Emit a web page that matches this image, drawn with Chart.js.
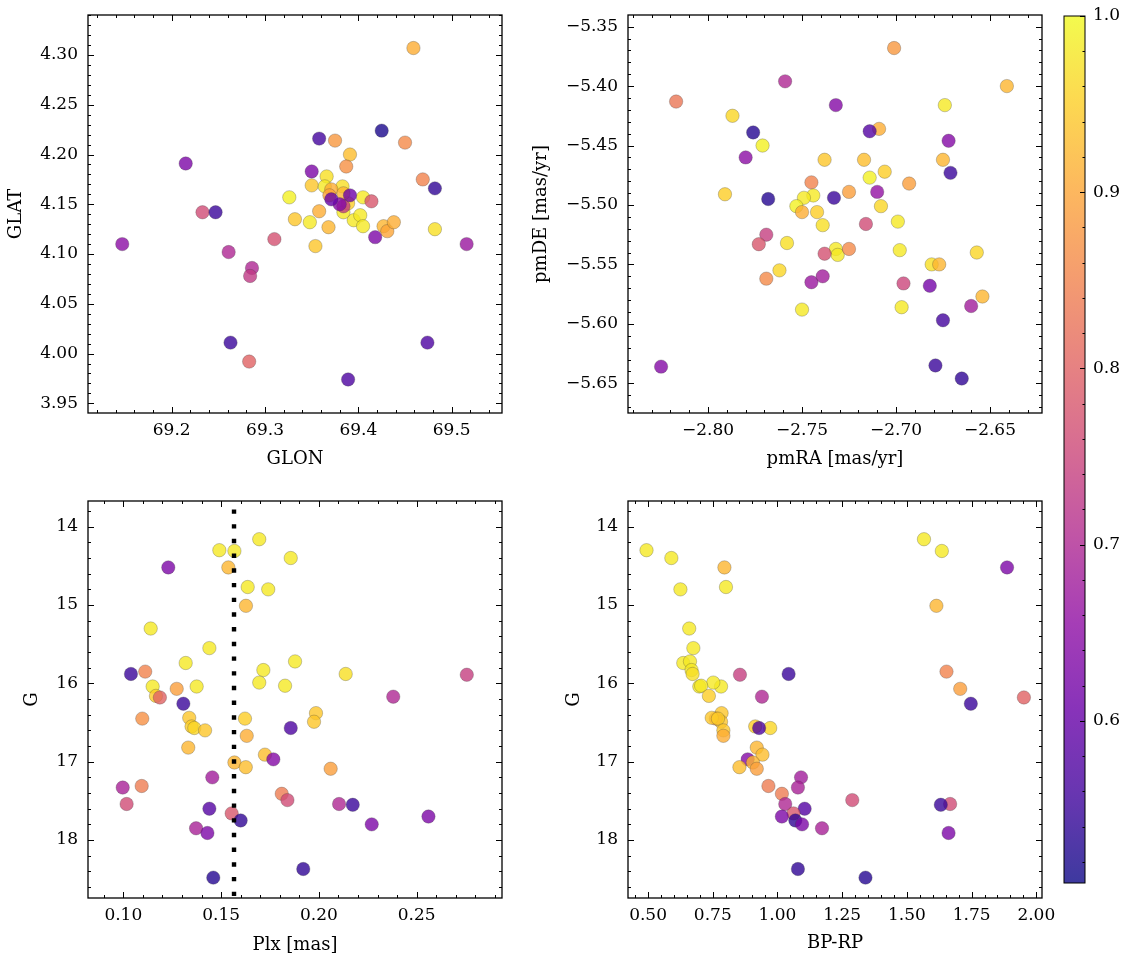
<!DOCTYPE html>
<html><head><meta charset="utf-8">
<script src="https://cdn.jsdelivr.net/npm/chart.js@4.4.0/dist/chart.umd.min.js"></script>
<style>
html,body{margin:0;padding:0;background:#fff;}
#wrap{position:relative;width:1133px;height:965px;overflow:hidden;background:#fff;}
canvas{position:absolute;}
</style></head><body>
<div id="wrap">
<canvas id="c1" width="510" height="480" style="left:0;top:0"></canvas>
<canvas id="c3" width="510" height="485" style="left:0;top:480px"></canvas>
<canvas id="c2" width="560" height="480" style="left:510px;top:0"></canvas>
<canvas id="c4" width="560" height="485" style="left:510px;top:480px"></canvas>
<canvas id="cb" width="83" height="965" style="left:1050px;top:0"></canvas>
</div>
<script>
// ---------- data: positions ----------
const glon = [69.459,69.425,69.358,69.375,69.450,69.391,69.215,69.387,69.350,69.469,69.482,69.366,69.350,69.326,69.405,69.233,69.247,69.414,69.332,69.358,69.348,69.368,69.395,69.402,69.405,69.427,69.431,69.438,69.482,69.418,69.354,69.310,69.147,69.516,69.261,69.286,69.284,69.263,69.474,69.283,69.389,
  69.364,69.383,69.384,69.389,69.371,69.369,69.384,69.384,69.380,69.371,69.391];
const glat = [4.307,4.224,4.216,4.214,4.212,4.200,4.191,4.188,4.183,4.175,4.166,4.178,4.169,4.157,4.157,4.142,4.142,4.153,4.135,4.143,4.132,4.127,4.134,4.139,4.128,4.128,4.123,4.132,4.125,4.117,4.108,4.115,4.110,4.110,4.102,4.086,4.078,4.011,4.011,3.992,3.974,
  4.168,4.168,4.142,4.151,4.165,4.159,4.161,4.148,4.150,4.155,4.159];
const probPos = [0.91,0.52,0.56,0.88,0.86,0.93,0.63,0.87,0.63,0.85,0.54,0.97,0.94,0.99,0.98,0.76,0.55,0.78,0.94,0.91,0.98,0.92,0.98,0.98,0.98,0.92,0.90,0.91,0.97,0.63,0.94,0.77,0.65,0.67,0.70,0.70,0.73,0.55,0.57,0.80,0.57,
  0.98,0.97,0.98,0.95,0.91,0.90,0.92,0.73,0.64,0.60,0.61];

// ---------- data: proper motions ----------
const pmra = [-2.701,-2.641,-2.759,-2.817,-2.732,-2.674,-2.787,-2.776,-2.709,-2.714,-2.771,-2.672,-2.780,-2.738,-2.717,-2.675,-2.671,-2.706,-2.714,-2.745,-2.693,-2.725,-2.710,-2.791,-2.768,-2.733,-2.744,-2.749,-2.753,-2.750,-2.742,-2.708,-2.739,-2.716,-2.699,-2.769,-2.773,-2.758,-2.732,-2.731,-2.738,-2.725,-2.698,-2.657,-2.762,-2.769,-2.745,-2.739,-2.681,-2.677,-2.696,-2.682,-2.654,-2.660,-2.750,-2.697,-2.675,-2.825,-2.679,-2.665];
const pmde = [-5.368,-5.400,-5.396,-5.413,-5.416,-5.416,-5.425,-5.439,-5.436,-5.438,-5.450,-5.446,-5.460,-5.462,-5.462,-5.462,-5.473,-5.472,-5.477,-5.481,-5.482,-5.489,-5.489,-5.491,-5.495,-5.494,-5.492,-5.494,-5.501,-5.506,-5.506,-5.501,-5.517,-5.516,-5.514,-5.525,-5.533,-5.532,-5.537,-5.542,-5.541,-5.537,-5.538,-5.540,-5.555,-5.562,-5.565,-5.560,-5.550,-5.550,-5.566,-5.568,-5.577,-5.585,-5.588,-5.586,-5.597,-5.636,-5.635,-5.646];
const probPM = [0.88,0.92,0.70,0.83,0.64,0.98,0.96,0.53,0.91,0.58,0.99,0.64,0.65,0.94,0.93,0.92,0.55,0.95,0.99,0.85,0.89,0.89,0.66,0.95,0.53,0.55,0.98,0.98,0.99,0.91,0.95,0.96,0.97,0.76,0.98,0.74,0.78,0.97,0.98,0.98,0.77,0.86,0.98,0.96,0.96,0.86,0.67,0.68,0.97,0.92,0.75,0.62,0.92,0.68,0.98,0.98,0.56,0.64,0.55,0.54];

// ---------- data: photometry / parallax ----------
const plx = [0.1695,0.1491,0.1568,0.1856,0.123,0.1537,0.1636,0.1741,0.1627,0.114,0.144,0.1319,0.1878,0.1039,0.1112,0.1716,0.2137,0.2756,0.115,0.1375,0.1695,0.1827,0.1273,0.1167,0.1187,0.238,0.1307,0.1985,0.1975,0.1097,0.1337,0.1622,0.1349,0.1363,0.1418,0.1856,0.1631,0.1332,0.1724,0.1767,0.1568,0.1626,0.206,0.1455,0.0997,0.1094,0.1017,0.181,0.1839,0.2103,0.2173,0.144,0.1554,0.16,0.256,0.1372,0.143,0.227,0.192,0.146];
const gmag = [14.16,14.30,14.31,14.40,14.52,14.52,14.77,14.80,15.01,15.30,15.55,15.74,15.72,15.88,15.85,15.83,15.88,15.89,16.04,16.04,15.99,16.03,16.07,16.16,16.18,16.17,16.26,16.38,16.49,16.45,16.44,16.45,16.55,16.57,16.60,16.57,16.67,16.82,16.91,16.97,17.01,17.07,17.09,17.20,17.33,17.31,17.54,17.41,17.49,17.54,17.55,17.60,17.66,17.75,17.70,17.85,17.91,17.80,18.37,18.48];
const bprp = [1.566,0.494,1.635,0.590,1.887,0.795,0.801,0.625,1.614,0.659,0.675,0.636,0.662,1.043,1.653,0.668,0.672,0.855,0.698,0.782,0.752,0.705,1.706,0.735,1.952,0.940,1.747,0.784,0.782,0.762,0.746,0.770,0.914,0.972,0.791,0.929,0.791,0.920,0.942,0.885,0.905,0.853,0.920,1.091,1.079,0.965,1.667,1.017,1.289,1.030,1.631,1.105,1.062,1.069,1.017,1.172,1.661,1.095,1.079,1.340];
const probPhot = [0.98,0.98,0.98,0.98,0.63,0.92,0.98,0.98,0.92,0.98,0.98,0.98,0.98,0.55,0.85,0.98,0.97,0.74,0.98,0.98,0.98,0.98,0.89,0.95,0.80,0.70,0.55,0.94,0.94,0.87,0.94,0.95,0.95,0.96,0.94,0.57,0.91,0.92,0.93,0.64,0.92,0.93,0.89,0.68,0.69,0.84,0.76,0.84,0.76,0.70,0.55,0.58,0.78,0.54,0.63,0.69,0.63,0.63,0.54,0.53];

// dotted reference line (parallax)
const plxLineX = [0.1566, 0.1566];
const plxLineG = [13.78, 18.80];

// ---------- tick labels ----------
const glonTicks = [69.2, 69.3, 69.4, 69.5];
const glatTicks = [3.95, 4.00, 4.05, 4.10, 4.15, 4.20, 4.25, 4.30];
const pmraTicks = [-2.80, -2.75, -2.70, -2.65];
const pmdeTicks = [-5.65, -5.60, -5.55, -5.50, -5.45, -5.40, -5.35];
const plxTicks = [0.10, 0.15, 0.20, 0.25];
const gTicks = [14, 15, 16, 17, 18];
const bprpTicks = [0.50, 0.75, 1.00, 1.25, 1.50, 1.75, 2.00];
const cbTicks = [0.6, 0.7, 0.8, 0.9, 1.0];
const CB_MIN = 0.508, CB_MAX = 1.0;

// ---------- style ----------
Chart.defaults.font.family = "'DejaVu Serif', serif";
Chart.defaults.color = '#000';
const ALPHA = 0.8;
const PLASMA = [[13,8,135],[65,4,157],[106,0,168],[143,13,164],[177,42,144],[204,71,120],[225,100,98],[242,132,75],[252,166,54],[252,206,37],[240,249,33]];
function plasma(t){ t=Math.min(1,Math.max(0,t)); const f=t*10; const i=Math.min(9,Math.floor(f)); const r=f-i; const a=PLASMA[i], b=PLASMA[i+1]; return [0,1,2].map(k=>Math.round(a[k]+(b[k]-a[k])*r)); }
function probColor(p){ const c=plasma((p-CB_MIN)/(CB_MAX-CB_MIN)); return `rgba(${c[0]},${c[1]},${c[2]},${ALPHA})`; }
function fmt(v,d){ const s=Math.abs(v).toFixed(d); return (v<0?'\u2212':'')+s; }

const frameCfg = {};
const frameTicks = {
  id:'frameTicks',
  afterDatasetsDraw(chart){
    const o = frameCfg[chart.canvas.id]; if(!o) return;
    const {ctx, chartArea:a, scales} = chart;
    ctx.save();
    ctx.strokeStyle='#000'; ctx.lineWidth=1;
    const line=(x1,y1,x2,y2)=>{ctx.beginPath();ctx.moveTo(x1,y1);ctx.lineTo(x2,y2);ctx.stroke();};
    const minorVals=(s,majors,step)=>{const out=[];const lo=Math.min(s.min,s.max),hi=Math.max(s.min,s.max);let k=Math.ceil(lo/step-1e-6);for(;;){const v=k*step;if(v>hi+1e-9)break;if(!majors.some(m=>Math.abs(m-v)<step*0.01))out.push(v);k++;}return out;};
    const MJ=o.major||6, MN=o.minor||3;
    if(o.xSides.length){
      const xs=scales.x;
      const draw=(v,len)=>{const p=Math.round(xs.getPixelForValue(v))+0.5; if(p<a.left||p>a.right)return;
        if(o.xSides.includes('bottom')) line(p,a.bottom,p,a.bottom-len);
        if(o.xSides.includes('top')) line(p,a.top,p,a.top+len);};
      o.xMajor.forEach(v=>draw(v,MJ));
      minorVals(xs,o.xMajor,o.xMinor).forEach(v=>draw(v,MN));
    }
    if(o.ySides.length){
      const ys=scales.y;
      const draw=(v,len)=>{const p=Math.round(ys.getPixelForValue(v))+0.5; if(p<a.top||p>a.bottom)return;
        if(o.ySides.includes('left')) line(a.left,p,a.left+len,p);
        if(o.ySides.includes('right')) line(a.right,p,a.right-len,p);};
      o.yMajor.forEach(v=>draw(v,MJ));
      minorVals(ys,o.yMajor,o.yMinor).forEach(v=>draw(v,MN));
    }
    ctx.lineWidth=o.frameWidth||1.3;
    ctx.strokeRect(a.left,a.top,a.right-a.left,a.bottom-a.top);
    ctx.restore();
  }
};

function panel(id,p){
  frameCfg[id] = {xMajor:p.xTicks, yMajor:p.yTicks, xMinor:p.xMinor, yMinor:p.yMinor, xSides:['bottom','top'], ySides:['left','right']};
  const datasets=[{type:'scatter', data:p.xs.map((x,i)=>({x, y:p.ys[i]})), backgroundColor:p.probs.map(probColor),
    borderColor:'rgba(60,60,60,0.55)', borderWidth:0.5, pointRadius:6.7, pointHoverRadius:6.7, order:1}];
  if(p.extra) datasets.push(p.extra);
  return new Chart(document.getElementById(id),{
    type:'scatter',
    data:{datasets},
    options:{
      responsive:false, animation:false, devicePixelRatio:1, events:[],
      layout:{padding:{left:0, top:p.top, right:p.right, bottom:0}},
      plugins:{legend:{display:false}, tooltip:{enabled:false}},
      scales:{
        x:{type:'linear', min:p.xMin, max:p.xMax, grid:{display:false, drawTicks:false}, border:{display:false},
          ticks:{padding:7, font:{size:17}, autoSkip:false, maxRotation:0, callback:v=>fmt(v,p.xDec)},
          afterBuildTicks:s=>{s.ticks=p.xTicks.map(v=>({value:v}));},
          afterFit:s=>{s.height=p.xH; s.paddingLeft=0; s.paddingRight=0;},
          title:{display:true, text:p.xTitle, font:{size:18}, padding:{top:0, bottom:p.xTitlePad}}},
        y:{type:'linear', reverse:!!p.reverse, min:p.yMin, max:p.yMax, grid:{display:false, drawTicks:false}, border:{display:false},
          ticks:{padding:10, font:{size:17}, autoSkip:false, callback:v=>fmt(v,p.yDec)},
          afterBuildTicks:s=>{s.ticks=p.yTicks.map(v=>({value:v}));},
          afterFit:s=>{s.width=p.yW; s.paddingTop=0; s.paddingBottom=0;},
          title:{display:true, text:p.yTitle, font:{size:18}, padding:{top:p.yTitlePad, bottom:0}}}
      }
    },
    plugins:[frameTicks]
  });
}

panel('c1',{xs:glon, ys:glat, probs:probPos, xMin:69.1103, xMax:69.5539, yMin:3.9403, yMax:4.3402,
  xTicks:glonTicks, yTicks:glatTicks, xDec:1, yDec:2, xMinor:0.02, yMinor:0.01, xTitle:'GLON', yTitle:'GLAT',
  top:15, right:8, yW:88, xH:67, xTitlePad:10, yTitlePad:6});
panel('c2',{xs:pmra, ys:pmde, probs:probPM, xMin:-2.8426, xMax:-2.6223, yMin:-5.675, yMax:-5.3402,
  xTicks:pmraTicks, yTicks:pmdeTicks, xDec:2, yDec:2, xMinor:0.01, yMinor:0.01, xTitle:'pmRA [mas/yr]', yTitle:'pmDE [mas/yr]',
  top:15, right:28, yW:118, xH:67, xTitlePad:10, yTitlePad:21});
panel('c3',{xs:plx, ys:gmag, probs:probPhot, xMin:0.08195, xMax:0.2936, yMin:13.672, yMax:18.74, reverse:true,
  xTicks:plxTicks, yTicks:gTicks, xDec:2, yDec:0, xMinor:0.01, yMinor:0.2, xTitle:'Plx [mas]', yTitle:'G',
  top:21, right:8, yW:88, xH:67, xTitlePad:9, yTitlePad:22,
  extra:{type:'line', showLine:true, data:plxLineX.map((x,i)=>({x, y:plxLineG[i]})), borderColor:'#000', borderWidth:4.4,
    borderDash:[4.4,10.3], borderCapStyle:'butt', pointRadius:0, fill:false, order:0}});
panel('c4',{xs:bprp, ys:gmag, probs:probPhot, xMin:0.4225, xMax:2.022, yMin:13.672, yMax:18.74, reverse:true,
  xTicks:bprpTicks, yTicks:gTicks, xDec:2, yDec:0, xMinor:0.05, yMinor:0.2, xTitle:'BP-RP', yTitle:'G',
  top:21, right:28, yW:118, xH:67, xTitlePad:11, yTitlePad:54});

// colorbar
frameCfg['cb'] = {yMajor:cbTicks, yMinor:0.02, xSides:[], ySides:['right'], major:5, minor:2.5, frameWidth:1};
new Chart(document.getElementById('cb'),{
  type:'bar',
  data:{labels:[''], datasets:[{data:[[CB_MIN, CB_MAX]], borderWidth:0, barPercentage:1, categoryPercentage:1,
    backgroundColor:(c)=>{
      const ch=c.chart; if(!ch.chartArea) return 'rgba(0,0,0,0)';
      const y0=ch.scales.y.getPixelForValue(CB_MIN), y1=ch.scales.y.getPixelForValue(CB_MAX);
      const g=ch.ctx.createLinearGradient(0,y0,0,y1);
      PLASMA.forEach((c3,i)=>g.addColorStop(i/10,`rgba(${c3[0]},${c3[1]},${c3[2]},${ALPHA})`));
      return g;
    }}]},
  options:{responsive:false, animation:false, devicePixelRatio:1, events:[],
    layout:{padding:{left:14, top:16, right:0, bottom:82}},
    plugins:{legend:{display:false}, tooltip:{enabled:false}},
    scales:{
      x:{display:false},
      y:{position:'right', min:CB_MIN, max:CB_MAX, grid:{display:false, drawTicks:false}, border:{display:false},
        ticks:{padding:8, font:{size:17}, autoSkip:false, callback:v=>v.toFixed(1)},
        afterBuildTicks:s=>{s.ticks=cbTicks.map(v=>({value:v}));},
        afterFit:s=>{s.width=48; s.paddingTop=0; s.paddingBottom=0;}}
    }
  },
  plugins:[frameTicks]
});
</script>
</body></html>
